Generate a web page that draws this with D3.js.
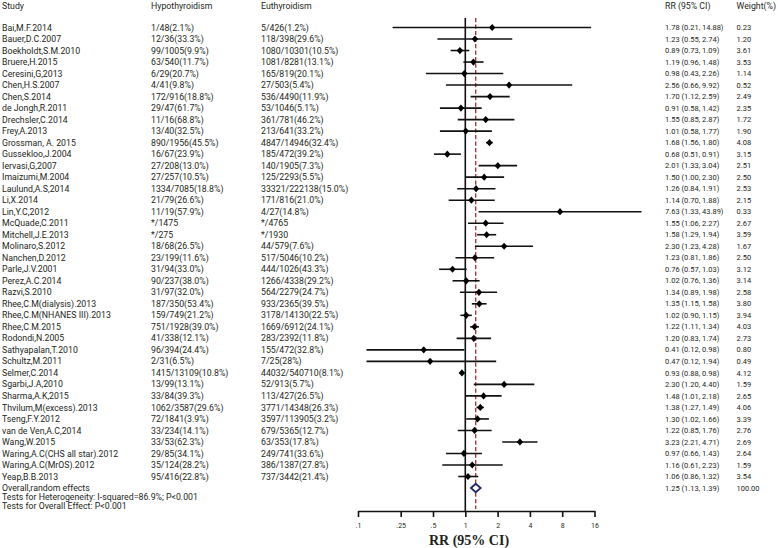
<!DOCTYPE html>
<html>
<head>
<meta charset="utf-8">
<script src="https://cdn.jsdelivr.net/npm/d3@7"></script>
<style>
html,body{margin:0;padding:0;background:#fff;}
svg text{font-family:Roboto,"Liberation Sans",sans-serif;fill:#231f20;}
</style>
</head>
<body>
<svg id="chart" width="778" height="548"></svg>
<script>
// ---- data ----
const studies = ["Bai,M.F.2014","Bauer,D.C.2007","Boekholdt,S.M.2010","Bruere,H.2015","Ceresini,G,2013","Chen,H.S.2007","Chen,S.2014","de Jongh,R.2011","Drechsler,C.2014","Frey,A.2013","Grossman, A. 2015","Gussekloo,J.2004","Iervasi,G,2007","Imaizumi,M.2004","Laulund,A.S,2014","Li,X.2014","Lin,Y.C,2012","McQuade,C.2011","Mitchell,J.E.2013","Molinaro,S.2012","Nanchen,D.2012","Parle,J.V.2001","Perez,A.C.2014","Razvi,S.2010","Rhee,C.M(dialysis).2013","Rhee,C.M(NHANES III).2013","Rhee,C.M.2015","Rodondi,N.2005","Sathyapalan,T.2010","Schultz,M.2011","Selmer,C.2014","Sgarbi,J.A,2010","Sharma,A.K,2015","Thvilum,M(excess).2013","Tseng,F.Y.2012","van de Ven,A.C,2014","Wang,W.2015","Waring,A.C(CHS all star).2012","Waring,A.C(MrOS).2012","Yeap,B.B.2013"];
const hypo = ["1/48(2.1%)","12/36(33.3%)","99/1005(9.9%)","63/540(11.7%)","6/29(20.7%)","4/41(9.8%)","172/916(18.8%)","29/47(61.7%)","11/16(68.8%)","13/40(32.5%)","890/1956(45.5%)","16/67(23.9%)","27/208(13.0%)","27/257(10.5%)","1334/7085(18.8%)","21/79(26.6%)","11/19(57.9%)","*/1475","*/275","18/68(26.5%)","23/199(11.6%)","31/94(33.0%)","90/237(38.0%)","31/97(32.0%)","187/350(53.4%)","159/749(21.2%)","751/1928(39.0%)","41/338(12.1%)","96/394(24.4%)","2/31(6.5%)","1415/13109(10.8%)","13/99(13.1%)","33/84(39.3%)","1062/3587(29.6%)","72/1841(3.9%)","33/234(14.1%)","33/53(62.3%)","29/85(34.1%)","35/124(28.2%)","95/416(22.8%)"];
const euthy = ["5/426(1.2%)","118/398(29.6%)","1080/10301(10.5%)","1081/8281(13.1%)","165/819(20.1%)","27/503(5.4%)","536/4490(11.9%)","53/1046(5.1%)","361/781(46.2%)","213/641(33.2%)","4847/14946(32.4%)","185/472(39.2%)","140/1905(7.3%)","125/2293(5.5%)","33321/222138(15.0%)","171/816(21.0%)","4/27(14.8%)","*/4765","*/1930","44/579(7.6%)","517/5046(10.2%)","444/1026(43.3%)","1266/4338(29.2%)","564/2279(24.7%)","933/2365(39.5%)","3178/14130(22.5%)","1669/6912(24.1%)","283/2392(11.8%)","155/472(32.8%)","7/25(28%)","44032/540710(8.1%)","52/913(5.7%)","113/427(26.5%)","3771/14348(26.3%)","3597/113905(3.2%)","679/5365(12.7%)","63/353(17.8%)","249/741(33.6%)","386/1387(27.8%)","737/3442(21.4%)"];
const rr = [1.78,1.23,0.89,1.19,0.98,2.56,1.70,0.91,1.55,1.01,1.68,0.68,2.01,1.50,1.26,1.14,7.63,1.55,1.58,2.30,1.23,0.76,1.02,1.34,1.35,1.02,1.22,1.20,0.41,0.47,0.93,2.30,1.48,1.38,1.30,1.22,3.23,0.97,1.16,1.06];
const lo = [0.21,0.55,0.73,0.96,0.43,0.66,1.12,0.58,0.85,0.58,1.56,0.51,1.33,1.00,0.84,0.70,1.33,1.06,1.29,1.23,0.81,0.57,0.76,0.89,1.15,0.90,1.11,0.83,0.12,0.12,0.88,1.20,1.01,1.27,1.02,0.85,2.21,0.66,0.61,0.86];
const hi = [14.88,2.74,1.09,1.48,2.26,9.92,2.59,1.42,2.87,1.77,1.80,0.91,3.04,2.30,1.91,1.88,43.89,2.27,1.94,4.28,1.86,1.03,1.36,1.98,1.58,1.15,1.34,1.74,0.98,1.94,0.98,4.40,2.18,1.49,1.66,1.76,4.71,1.43,2.23,1.32];
const weight = [0.23,1.20,3.61,3.53,1.14,0.52,2.49,2.35,1.72,1.90,4.08,3.15,2.51,2.50,2.53,2.15,0.33,2.67,3.59,1.67,2.50,3.12,3.14,2.58,3.80,3.94,4.03,2.73,0.80,0.49,4.12,1.59,2.65,4.06,3.39,2.76,2.69,2.64,1.59,3.54];
const overall = {rr:1.25, lo:1.13, hi:1.39, weight:100.00};
const headers = ["Study","Hypothyroidism","Euthyroidism","RR (95% CI)","Weight(%)"];
const tickValues = [0.1,0.25,0.5,1,2,4,8,16];
const tickLabels = [".1",".25",".5","1","2","4","8","16"];
const footer = ["Overall,random effects","Tests for Heterogeneity: I-squared=86.9%; P<0.001","Tests for Overall Effect: P<0.001"];
const axisTitle = "RR (95% CI)";

// ---- layout ----
const svg = d3.select("#chart");
// calibrate font size so text widths match the reference
const probe = svg.append("text").attr("font-size",10).text("Waring,A.C(CHS all star).2012");
const fs = Math.min(10, 10 * 116.5 / probe.node().getComputedTextLength());
probe.remove();
const probe2 = svg.append("text").attr("font-size",10).text("1.78 (0.21, 14.88)");
const fsNum = Math.min(10, 10 * 58.5 / probe2.node().getComputedTextLength());
probe2.remove();

const x = d3.scaleLog().base(2).domain([0.1,16]).range([358,594.5]);
const y = d3.scalePoint().domain(d3.range(studies.length)).range([27.5,476.5]);
const overallY = 488;
const axisY = 511;
const col = {study:2, hypo:151, euthy:261, rr:665, w:736.5};
const fmt = d3.format(".2f");

// headers
const hx = [col.study,col.hypo,col.euthy,col.rr,col.w];
svg.append("g").selectAll("text").data(headers).join("text")
  .attr("x",(d,i)=>hx[i]).attr("y",6).attr("dy","0.35em")
  .attr("font-size",fs).text(d=>d);

// rows text
const rows = svg.append("g").selectAll("g").data(studies).join("g")
  .attr("transform",(d,i)=>`translate(0,${y(i)})`);
rows.append("text").attr("x",col.study).attr("dy","0.35em").attr("font-size",fs).text(d=>d);
rows.append("text").attr("x",col.hypo).attr("dy","0.35em").attr("font-size",fs).text((d,i)=>hypo[i]);
rows.append("text").attr("x",col.euthy).attr("dy","0.35em").attr("font-size",fs).text((d,i)=>euthy[i]);
rows.append("text").attr("x",col.rr).attr("dy","0.35em").attr("font-size",fsNum)
  .text((d,i)=>`${fmt(rr[i])} (${fmt(lo[i])}, ${fmt(hi[i])})`);
rows.append("text").attr("x",col.w).attr("dy","0.35em").attr("font-size",fsNum).text((d,i)=>fmt(weight[i]));

// overall text
svg.append("text").attr("x",col.rr).attr("y",overallY).attr("dy","0.35em").attr("font-size",fsNum)
  .text(`${fmt(overall.rr)} (${fmt(overall.lo)}, ${fmt(overall.hi)})`);
svg.append("text").attr("x",col.w).attr("y",overallY).attr("dy","0.35em").attr("font-size",fsNum)
  .text(fmt(overall.weight));
const footY = [overallY, overallY+9.2, overallY+18.4];
svg.append("g").selectAll("text").data(footer).join("text")
  .attr("x",col.study).attr("y",(d,i)=>footY[i]).attr("dy","0.35em").attr("font-size",fs).text(d=>d);

// null line
svg.append("line").attr("x1",x(1)).attr("x2",x(1)).attr("y1",18).attr("y2",axisY)
  .attr("stroke","#111").attr("stroke-width",1.6);
// overall dashed line
svg.append("line").attr("x1",x(overall.rr)).attr("x2",x(overall.rr)).attr("y1",18).attr("y2",axisY-2)
  .attr("stroke","#a83a3f").attr("stroke-width",1.4).attr("stroke-dasharray","4.2,2.3");

// CI lines
svg.append("g").selectAll("line").data(studies).join("line")
  .attr("x1",(d,i)=>x(lo[i])).attr("x2",(d,i)=>x(hi[i]))
  .attr("y1",(d,i)=>y(i)).attr("y2",(d,i)=>y(i))
  .attr("stroke","#111").attr("stroke-width",1.6);
// point diamonds
const dw = 3.2, dh = 3.6;
svg.append("g").selectAll("path").data(studies).join("path")
  .attr("d",(d,i)=>{const cx=x(rr[i]), cy=y(i);
    return `M${cx-dw},${cy}L${cx},${cy-dh}L${cx+dw},${cy}L${cx},${cy+dh}Z`;})
  .attr("fill","#000");

// overall diamond
{
  const cx = x(overall.rr), l = x(overall.lo), r = x(overall.hi), h = 4.2;
  svg.append("path")
    .attr("d",`M${l},${overallY}L${cx},${overallY-h}L${r},${overallY}L${cx},${overallY+h}Z`)
    .attr("fill","#fff").attr("stroke","#1d2b5c").attr("stroke-width",1.8);
}

// axis
const axis = d3.axisBottom(x).tickValues(tickValues)
  .tickFormat((d,i)=>tickLabels[i]).tickSize(6).tickSizeOuter(0);
const ag = svg.append("g").attr("transform",`translate(0,${axisY})`).call(axis);
ag.select(".domain").attr("stroke","#111").attr("stroke-width",1.6);
ag.selectAll(".tick line").attr("stroke","#111").attr("stroke-width",1.6);
ag.selectAll(".tick text").attr("font-family","Roboto,sans-serif").attr("font-size",7)
  .attr("fill","#231f20").attr("y",12);

svg.append("text").attr("x",469).attr("y",540).attr("dy","0.35em")
  .attr("text-anchor","middle").attr("font-size",14).attr("font-weight","bold")
  .style("font-family","'Liberation Serif','DejaVu Serif',serif").text(axisTitle);
</script>
</body>
</html>
